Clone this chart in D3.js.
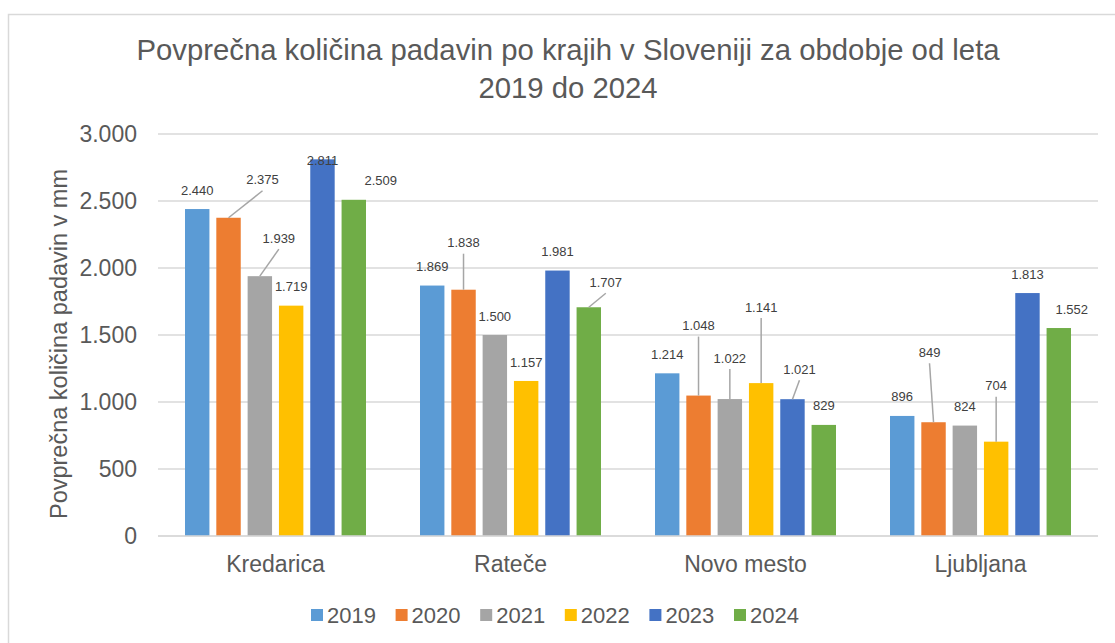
<!DOCTYPE html>
<html>
<head>
<meta charset="utf-8">
<script src="https://cdn.jsdelivr.net/npm/d3@7"></script>
<style>
  body { margin: 0; background: #fff; }
  svg { font-family: "Liberation Sans", Arial, sans-serif; }
</style>
</head>
<body>
<div id="chart"></div>
<script>
var width = 1115;
var height = 643;

// data
var krajiNames = ["Kredarica", "Rateče", "Novo mesto", "Ljubljana"];
var leta = ["2019", "2020", "2021", "2022", "2023", "2024"];
var padavine2019 = [2440, 1869, 1214, 896];
var padavine2020 = [2375, 1838, 1048, 849];
var padavine2021 = [1939, 1500, 1022, 824];
var padavine2022 = [1719, 1157, 1141, 704];
var padavine2023 = [2811, 1981, 1021, 1813];
var padavine2024 = [2509, 1707, 829, 1552];
var yTicks = [0, 500, 1000, 1500, 2000, 2500, 3000];

var series = [padavine2019, padavine2020, padavine2021, padavine2022, padavine2023, padavine2024];
var colors = ["#5B9BD5", "#ED7D31", "#A5A5A5", "#FFC000", "#4472C4", "#70AD47"];

// label nudges (dx, dy) from the default spot above each bar, per kraj then leto
var nudge = [
  [[0,0],[34,-19],[19,-19],[0,0],[0,20],[27,0]],
  [[0,0],[0,-28],[0,0],[0,0],[0,0],[17,-6]],
  [[0,0],[0,-51],[0,-22],[0,-57],[7,-11],[0,0]],
  [[0,0],[-4,-51],[0,0],[0,-37],[0,0],[13,0]]
];

var rows = [];
krajiNames.forEach(function(k, i) {
  leta.forEach(function(l, j) {
    rows.push({kraj: k, leto: l, value: series[j][i], nx: nudge[i][j][0], ny: nudge[i][j][1]});
  });
});

var plot = {l: 158, r: 1098, t: 134, b: 536};

var svg = d3.select("#chart").append("svg")
  .attr("width", width)
  .attr("height", height);

// chart border
svg.append("rect")
  .attr("x", 8.5).attr("y", 14.5)
  .attr("width", 1120).attr("height", 700)
  .attr("fill", "none")
  .attr("stroke", "#D9D9D9")
  .attr("stroke-width", 1.5);

var x0 = d3.scaleBand().domain(krajiNames).range([plot.l, plot.r]);
var x1 = d3.scaleBand().domain(leta).range([27, x0.bandwidth() - 27]).paddingInner(0.22);
var y = d3.scaleLinear().domain([0, 3000]).range([plot.b, plot.t]);

var fmt = function(v) { return d3.format(",")(v).replace(/,/g, "."); };

// grid
svg.append("g").selectAll("line")
  .data(yTicks)
  .enter().append("line")
  .attr("x1", plot.l).attr("x2", plot.r)
  .attr("y1", function(d) { return y(d); })
  .attr("y2", function(d) { return y(d); })
  .attr("stroke", "#D9D9D9")
  .attr("stroke-width", 1.5);

// y axis labels
var yAxis = d3.axisLeft(y).tickValues(yTicks).tickSize(0).tickPadding(0).tickFormat(fmt);
var yg = svg.append("g")
  .attr("transform", "translate(137,0)")
  .call(yAxis);
yg.select(".domain").remove();
yg.selectAll("text")
  .attr("fill", "#595959")
  .style("font-size", "23px")
  .style("font-family", "Liberation Sans, Arial, sans-serif");

// x axis labels
var xAxis = d3.axisBottom(x0).tickSize(0).tickPadding(0);
var xg = svg.append("g")
  .attr("transform", "translate(0,556)")
  .call(xAxis);
xg.select(".domain").remove();
xg.selectAll("text")
  .attr("fill", "#595959")
  .style("font-size", "23px")
  .style("font-family", "Liberation Sans, Arial, sans-serif");

// bars
svg.append("g").selectAll("rect")
  .data(rows)
  .enter().append("rect")
  .attr("x", function(d) { return x0(d.kraj) + x1(d.leto); })
  .attr("y", function(d) { return y(d.value); })
  .attr("width", x1.bandwidth())
  .attr("height", function(d) { return y(0) - y(d.value); })
  .attr("fill", function(d) { return colors[leta.indexOf(d.leto)]; });

// baseline redrawn over bars
svg.append("line")
  .attr("x1", plot.l).attr("x2", plot.r)
  .attr("y1", y(0)).attr("y2", y(0))
  .attr("stroke", "#D9D9D9")
  .attr("stroke-width", 1.5);

function barCx(d) { return x0(d.kraj) + x1(d.leto) + x1.bandwidth() / 2; }
function labX(d) { return barCx(d) + d.nx; }
function labY(d) { return y(d.value) - 19 + d.ny; }

// leader lines
svg.append("g").selectAll("line")
  .data(rows.filter(function(d) { return d.ny < -5; }))
  .enter().append("line")
  .attr("x1", function(d) { return labX(d); })
  .attr("y1", function(d) { return labY(d) + 11; })
  .attr("x2", function(d) { return barCx(d); })
  .attr("y2", function(d) { return y(d.value); })
  .attr("stroke", "#A6A6A6")
  .attr("stroke-width", 1.5);

// data labels
svg.append("g").selectAll("text")
  .data(rows)
  .enter().append("text")
  .attr("x", labX)
  .attr("y", labY)
  .attr("dy", "0.35em")
  .attr("text-anchor", "middle")
  .attr("fill", "#404040")
  .style("font-size", "13px")
  .text(function(d) { return fmt(d.value); });

// title
var title = svg.append("text")
  .attr("x", 568)
  .attr("text-anchor", "middle")
  .attr("fill", "#595959")
  .style("font-size", "29.3px");
title.append("tspan").attr("x", 568).attr("y", 60).text("Povprečna količina padavin po krajih v Sloveniji za obdobje od leta");
title.append("tspan").attr("x", 568).attr("y", 98).text("2019 do 2024");

// y title
svg.append("text")
  .attr("transform", "translate(67,344) rotate(-90)")
  .attr("text-anchor", "middle")
  .attr("fill", "#595959")
  .style("font-size", "23.5px")
  .text("Povprečna količina padavin v mm");

// legend
var legend = svg.append("g").selectAll("g")
  .data(leta)
  .enter().append("g")
  .attr("transform", function(d, i) { return "translate(" + (311 + i * 84.6) + ",609)"; });
legend.append("rect")
  .attr("width", 12).attr("height", 12)
  .attr("fill", function(d, i) { return colors[i]; });
legend.append("text")
  .attr("x", 16)
  .attr("y", 6)
  .attr("dy", "0.36em")
  .attr("fill", "#595959")
  .style("font-size", "22px")
  .text(function(d) { return d; });
</script>
</body>
</html>
